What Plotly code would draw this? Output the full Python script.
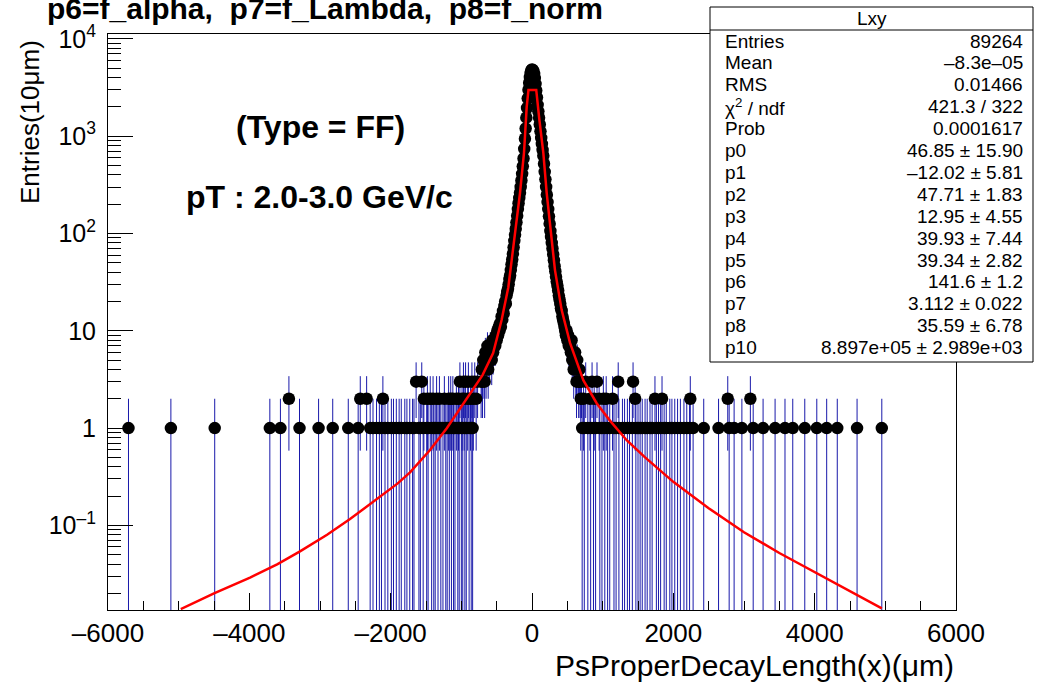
import numpy as np
import plotly.graph_objects as go

# ---------------- data ----------------
BIN_W = 10  # micrometres per bin

# sparse tail bins (bin centres, um) grouped by content
left_x_n1 = [-5710, -5110, -4490, -3710, -3560, -3290, -3020, -2820, -2600, -2460,
             -2290, -2250, -2200, -2160, -2130, -2080, -2040, -1990, -1960, -1920,
             -1880, -1850, -1800, -1770, -1730, -1690, -1670, -1600, -1580, -1540,
             -1490, -1470, -1420, -1390, -1370, -1330, -1290, -1260, -1220, -1200,
             -1170, -1140, -1110, -1090, -1050, -1030, -1000, -980, -950, -930,
             -890, -860, -840]
left_x_n2 = [-3440, -2430, -2340, -2110, -1530, -1480, -1440, -1400, -1350, -1310,
             -1240, -1180, -1150, -1120, -1070, -1040, -990, -960, -910, -870,
             -830, -790]
left_x_n3 = [-1640, -1560, -1020, -970, -940, -900, -850, -810, -770, -720]

right_x_n1 = [710, 740, 790, 830, 870, 900, 960, 990, 1030, 1070, 1100, 1160, 1190,
              1230, 1280, 1310, 1350, 1380, 1420, 1470, 1500, 1530, 1560, 1600, 1630,
              1670, 1700, 1760, 1790, 1820, 1870, 1900, 1950, 1980, 2020, 2060, 2100,
              2150, 2190, 2230, 2280, 2430, 2640, 2790, 2860, 2970, 3130, 3270, 3440,
              3580, 3690, 3860, 4030, 4170, 4320, 4600, 4950]
right_x_n2 = [730, 820, 880, 950, 1010, 1050, 1140, 1460, 1740, 1840, 2240, 2770, 3090]
right_x_n3 = [760, 850, 920, 1220, 1430]

# dense core: consecutive bins starting at core_first
core_first = -710
core_counts = [
    4, 3, 5, 4, 3, 6, 4, 5, 7, 4,
    6, 5, 7, 6, 5, 8, 6, 7, 8, 7,
    9, 8, 10, 9, 11, 10, 12, 11, 14, 13,
    16, 15, 18, 20, 19, 23, 25, 27, 30, 34,
    37, 42, 48, 54, 62, 72, 84, 97, 112, 130,
    152, 178, 205, 232, 262, 300, 350, 410, 490, 590,
    740, 940, 1200, 1550, 1950, 2450, 3000, 3550, 4050, 4450,
    4750,
    4850,
    4800, 4650, 4350, 3950, 3450, 2950, 2500, 2100, 1800, 1550,
    1320, 1120, 960, 830, 720, 630, 520, 430, 360, 300,
    250, 210, 178, 150, 126, 106, 92, 80, 70, 61,
    53, 46, 41, 36, 32, 29, 26, 23, 21, 19,
    17, 16, 14, 13, 12, 11, 10, 9, 10, 8,
    9, 7, 8, 7, 6, 8, 5, 6, 4, 5,
    6, 4, 3, 5, 4, 3, 4, 3, 2, 3,
]

# fit curve (red)
fit_x = [-4970, -4500, -3990, -3600, -3283, -2900, -2575, -2151, -1900, -1726, -1443,
         -1203, -934, -700, -550, -430, -335, -273, -217, -170, -113, -75, -50, 60,
         104, 160, 208, 264, 325, 420, 538, 726, 915, 1100, 1340, 1600, 2000, 2500,
         3000, 3500, 4000, 4500, 4950]
fit_y = [0.0138, 0.02, 0.029, 0.04, 0.054, 0.08, 0.116, 0.195, 0.27, 0.35, 0.594,
         1.0, 1.94, 3.5, 5.9, 12.9, 28, 63, 138, 260, 676, 2000, 2990, 2990,
         1480, 676, 260, 100, 42, 16.3, 7.5, 3.1, 1.8, 1.2, 0.75, 0.5, 0.28, 0.15,
         0.085, 0.052, 0.033, 0.021, 0.014]

x_tick_vals = [-6000, -4000, -2000, 0, 2000, 4000, 6000]
x_tick_text = ["\u20136000", "\u20134000", "\u20132000", "0", "2000", "4000", "6000"]
y_tick_vals = [0.1, 1, 10, 100, 1000, 10000]
y_tick_text = ["10<sup>\u20131</sup>", "1", "10", "10<sup>2</sup>", "10<sup>3</sup>", "10<sup>4</sup>"]

stats_title = "Lxy"
stats_names = ["Entries", "Mean", "RMS", "\u03c7<sup>2</sup> / ndf", "Prob", "p0", "p1", "p2",
               "p3", "p4", "p5", "p6", "p7", "p8", "p10"]
stats_values = ["89264", "\u20138.3e\u201305", "0.01466", "421.3 / 322", "0.0001617",
                "46.85 \u00b1 15.90", "\u201312.02 \u00b1 5.81", "47.71 \u00b1 1.83",
                "12.95 \u00b1 4.55", "39.93 \u00b1 7.44", "39.34 \u00b1 2.82",
                "141.6 \u00b1 1.2", "3.112 \u00b1 0.022", "35.59 \u00b1 6.78",
                "8.897e+05 \u00b1 2.989e+03"]

title_text = "p6=f_alpha,\u00a0\u00a0p7=f_Lambda,\u00a0\u00a0p8=f_norm"
label1 = "(Type = FF)"
label2 = "pT : 2.0-3.0 GeV/c"
x_title = "PsProperDecayLength(x)(\u03bcm)"
y_title = "Entries(10\u03bcm)"

# ---------------- assemble histogram ----------------
core_x = [core_first + i * BIN_W for i in range(len(core_counts))]
hx = (left_x_n1 + left_x_n2 + left_x_n3 + core_x + right_x_n1 + right_x_n2 + right_x_n3)
hy = ([1] * len(left_x_n1) + [2] * len(left_x_n2) + [3] * len(left_x_n3) + core_counts
      + [1] * len(right_x_n1) + [2] * len(right_x_n2) + [3] * len(right_x_n3))
order = np.argsort(hx)
hx = np.array(hx, dtype=float)[order]
hy = np.array(hy, dtype=float)[order]
err = np.sqrt(hy)

# ---------------- geometry ----------------
W, H = 1037, 682
L, R, T, B = 108, 81, 34, 72
pw, ph = W - L - R, H - T - B
def px_x(px):
    return (px - L) / pw
def px_y(py):
    return (H - B - py) / ph

FONT = "Liberation Sans, Arial, Helvetica, sans-serif"
YR = [-1.87, 4.05]

fig = go.Figure()
fig.add_trace(go.Scatter(
    x=hx, y=hy, mode="markers",
    marker=dict(color="black", size=12.5, line=dict(width=0)),
    error_y=dict(type="data", array=err, arrayminus=err, visible=True,
                 color="rgb(25,25,170)", thickness=1, width=0),
    showlegend=False, hoverinfo="x+y"))
fig.add_trace(go.Scatter(
    x=fit_x, y=fit_y, mode="lines", line=dict(color="#ff0000", width=2.5),
    showlegend=False))
# helper trace for minor tick axis
fig.add_trace(go.Scatter(x=[None], y=[None], yaxis="y2", showlegend=False))

minor_y = [k * 10.0 ** n for n in range(-2, 5) for k in range(2, 10)]

fig.update_layout(
    width=W, height=H,
    margin=dict(l=L, r=R, t=T, b=B, pad=0),
    paper_bgcolor="white", plot_bgcolor="white",
    font=dict(family=FONT, color="black"),
    xaxis=dict(range=[-6000, 6000], showgrid=False, zeroline=False,
               showline=True, linecolor="black", linewidth=1, mirror=True,
               ticks="inside", ticklen=17, tickwidth=1, tickcolor="black",
               tickvals=x_tick_vals, ticktext=x_tick_text,
               tickfont=dict(size=26, family=FONT), ticklabelstandoff=0,
               minor=dict(ticks="inside", ticklen=9, dtick=500, tick0=0,
                          tickcolor="black", tickwidth=1, showgrid=False)),
    yaxis=dict(type="log", range=YR, showgrid=False, zeroline=False,
               showline=True, linecolor="black", linewidth=1, mirror=True,
               ticks="inside", ticklen=25, tickwidth=1, tickcolor="black",
               tickvals=y_tick_vals, ticktext=y_tick_text,
               tickfont=dict(size=25, family=FONT), ticklabelstandoff=6),
    yaxis2=dict(type="log", range=YR, overlaying="y", side="left",
                showgrid=False, zeroline=False, showline=False,
                ticks="inside", ticklen=13, tickwidth=1, tickcolor="black",
                tickvals=minor_y, showticklabels=False),
)

shapes = []
# stats box
bx0, bx1, by0, by1 = 710, 1033, 7, 362
shapes.append(dict(type="rect", xref="paper", yref="paper",
                   x0=px_x(bx0), x1=px_x(bx1), y0=px_y(by1), y1=px_y(by0),
                   fillcolor="white", line=dict(color="black", width=1), layer="above"))
shapes.append(dict(type="line", xref="paper", yref="paper",
                   x0=px_x(bx0), x1=px_x(bx1), y0=px_y(30), y1=px_y(30),
                   line=dict(color="black", width=1), layer="above"))
fig.update_layout(shapes=shapes)

ann = []
ann.append(dict(text=stats_title, xref="paper", yref="paper", x=px_x((bx0 + bx1) / 2),
                y=px_y(18), xanchor="center", yanchor="middle", showarrow=False,
                font=dict(size=19, family=FONT)))
for i, (n, v) in enumerate(zip(stats_names, stats_values)):
    yy = px_y(41 + i * 21.9)
    ann.append(dict(text=n, xref="paper", yref="paper", x=px_x(723), y=yy,
                    xanchor="left", yanchor="middle", showarrow=False,
                    font=dict(size=19, family=FONT)))
    ann.append(dict(text=v, xref="paper", yref="paper", x=px_x(1025), y=yy,
                    xanchor="right", yanchor="middle", showarrow=False,
                    font=dict(size=19, family=FONT)))
# title
ann.append(dict(text="<b>" + title_text + "</b>", xref="paper", yref="paper",
                x=px_x(45), y=px_y(8), xanchor="left", yanchor="middle",
                showarrow=False, font=dict(size=30, family=FONT)))
ann.append(dict(text="<b>" + label1 + "</b>", xref="paper", yref="paper",
                x=px_x(320), y=px_y(127), xanchor="center", yanchor="middle",
                showarrow=False, font=dict(size=32, family=FONT)))
ann.append(dict(text="<b>" + label2 + "</b>", xref="paper", yref="paper",
                x=px_x(319), y=px_y(197), xanchor="center", yanchor="middle",
                showarrow=False, font=dict(size=32, family=FONT)))
ann.append(dict(text=x_title, xref="paper", yref="paper",
                x=px_x(956), y=px_y(665), xanchor="right", yanchor="middle",
                showarrow=False, font=dict(size=30, family=FONT)))
ann.append(dict(text=y_title, xref="paper", yref="paper",
                x=px_x(30), y=px_y(122), xanchor="center", yanchor="middle",
                textangle=-90, showarrow=False, font=dict(size=26, family=FONT)))
fig.update_layout(annotations=ann)

fig.write_html("out.html")
